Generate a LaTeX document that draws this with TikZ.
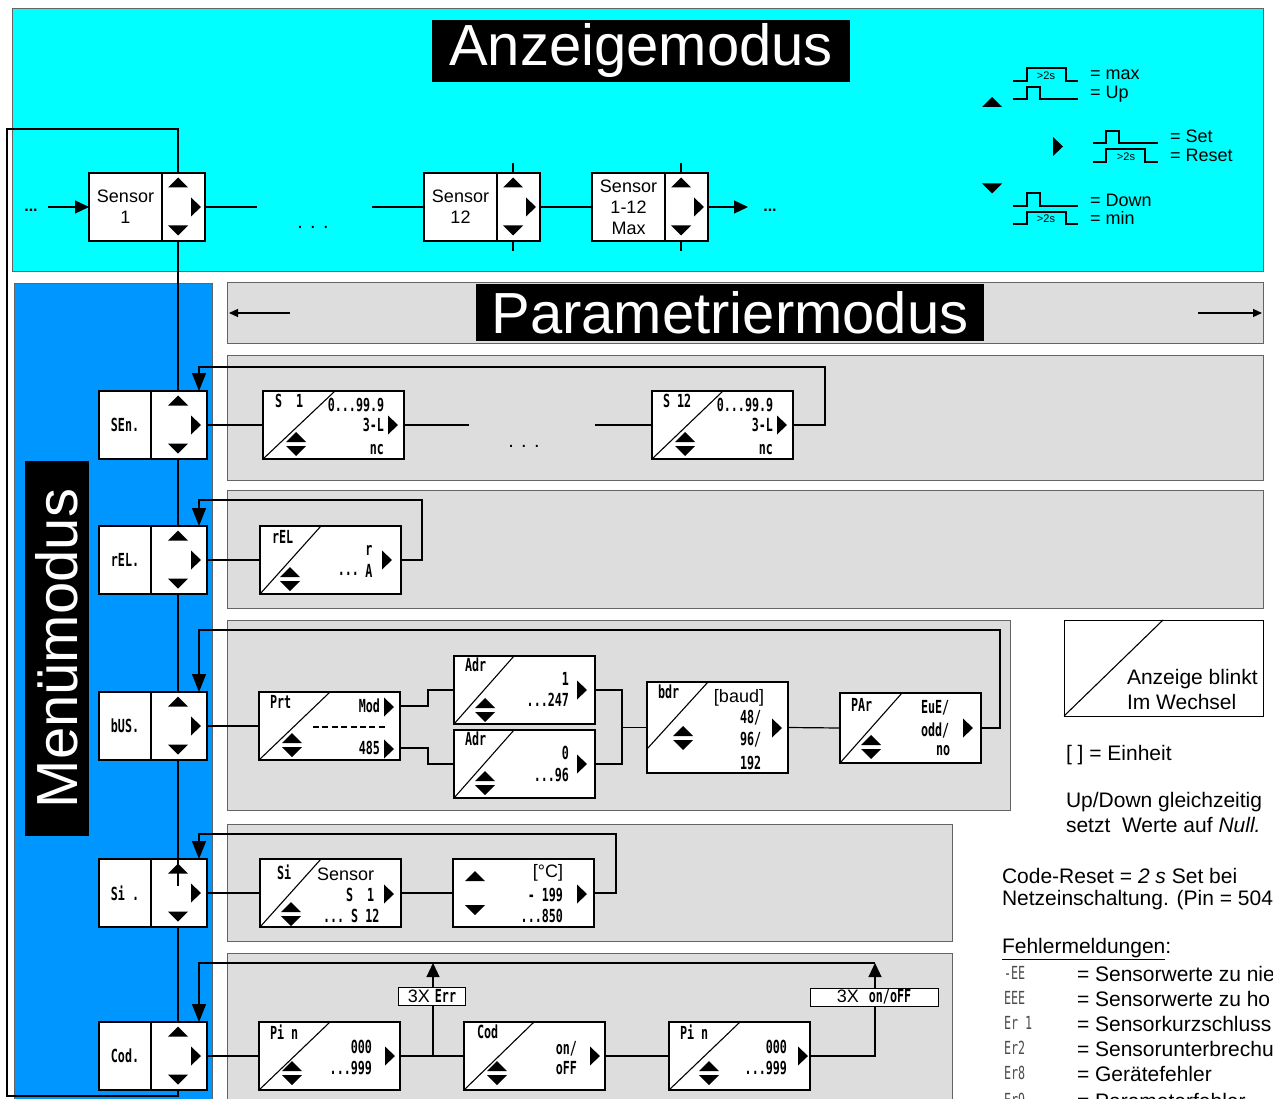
\documentclass[tikz,border=0pt]{standalone}
\usepackage{fontspec}
\setmainfont{Liberation Sans}
\newfontfamily\segfont[FakeStretch=0.65]{DejaVu Sans Mono}
\usetikzlibrary{arrows.meta,calc}
\definecolor{cyanbg}{RGB}{0,255,255}
\definecolor{bluebg}{RGB}{0,150,255}
\definecolor{graybg}{RGB}{221,221,221}
\definecolor{edgegray}{RGB}{100,100,100}
\newcommand\szSens{\fontsize{18pt}{21pt}\selectfont}
\newcommand\szLeg{\fontsize{18pt}{19pt}\selectfont}
\newcommand\szSmall{\fontsize{11pt}{12pt}\selectfont}
\newcommand\szRight{\fontsize{21pt}{23pt}\selectfont}
\newcommand\szTitle{\fontsize{58pt}{60pt}\selectfont}
\newcommand\szSeg{\segfont\bfseries\fontsize{18pt}{19pt}\selectfont}
\newcommand\szSegThin{\segfont\fontsize{18pt}{19pt}\selectfont}
\tikzset{
  every node/.style={inner sep=0pt,outer sep=0pt},
  wire/.style={line width=1.2pt},
  looparrow/.style={wire,-{Triangle[length=18pt,width=14pt]}},
  smallarrow/.style={wire,-{Triangle[length=14pt,width=13pt]}},
  hdrarrow/.style={wire,-{Triangle[length=9pt,width=8pt]}},
  panel/.style={draw=edgegray,fill=graybg,line width=0.9pt},
  disp/.style={draw,fill=white,line width=1.1pt,anchor=north west,minimum width=141pt,minimum height=68pt},
  diag/.style={line width=1.1pt},
  mleft/.style={draw,fill=white,line width=1.1pt,anchor=north west,minimum width=52pt,minimum height=68pt,font=\szSeg},
  mctl/.style={draw,fill=white,line width=1.1pt,anchor=north west,minimum width=56pt,minimum height=68pt},
  sleft/.style={draw,fill=white,line width=1.1pt,anchor=north west,minimum width=73pt,minimum height=68pt,font=\szSens,align=center},
  sctl/.style={draw,fill=white,line width=1.1pt,anchor=north west,minimum width=43pt,minimum height=68pt},
  seg/.style={font=\szSeg},
  segW/.style={font=\szSeg,anchor=west},
  segE/.style={font=\szSeg,anchor=east},
  errcode/.style={font=\szSegThin,anchor=west,text=black!70},
  leg/.style={font=\szLeg,anchor=west},
  rtxt/.style={font=\szRight,anchor=west},
  titlebox/.style={fill=black,text=white,font=\szTitle},
  lblbox/.style={draw,fill=white,line width=1pt,minimum height=18pt,font=\szLeg},
  updn/.pic={\fill (-10,-2) -- (10,-2) -- (0,-12) -- cycle; \fill (-10,2) -- (10,2) -- (0,12) -- cycle;},
  rtri/.pic={\fill (0,-9.5) -- (10,0) -- (0,9.5) -- cycle;},
  uptri/.pic={\fill (-10,5) -- (10,5) -- (0,-5) -- cycle;},
  dntri/.pic={\fill (-10,-5) -- (10,-5) -- (0,5) -- cycle;},
}
\newcommand\ctlset[2]{\pic at (#1,{#2+9.5}) {uptri}; \pic at ({#1+13},{#2+34}) {rtri}; \pic at (#1,{#2+57.5}) {dntri};}
\begin{document}
\begin{tikzpicture}[x=1pt,y=-1pt]
\useasboundingbox (0,0) rectangle (1273,1099);
\clip (0,0) rectangle (1273,1099);
\fill[white] (0,0) rectangle (1273,1099);
% backgrounds
\draw[fill=cyanbg,draw=edgegray,line width=0.9pt] (12,8) rectangle (1263,271);
\draw[fill=bluebg,draw=edgegray,line width=0.9pt] (14,283) rectangle (212,1110);
\draw[panel] (227,282) rectangle (1263,343);
\draw[panel] (227,355) rectangle (1263,480);
\draw[panel] (227,490) rectangle (1263,608);
\draw[panel] (227,620) rectangle (1010,810);
\draw[panel] (227,824) rectangle (952,941);
\draw[panel] (227,953) rectangle (952,1110);
% titles
\node[titlebox,minimum width=418pt,minimum height=62pt] (anz) at (641,51) {Anzeigemodus};
\node[titlebox,minimum width=508pt,minimum height=57pt] (par) at (730,312.5) {Parametriermodus};
\node[titlebox,rotate=90,minimum width=375pt,minimum height=64pt] (men) at (57,648.5) {Menümodus};
\coordinate (hl1) at (290,313); \coordinate (hl2) at (229,313);
\coordinate (hr1) at (1198,313); \coordinate (hr2) at (1262,313);
\draw[hdrarrow] (hl1) -- (hl2);
\draw[hdrarrow] (hr1) -- (hr2);
% legend top right
\pic at (992,102) {uptri};
\fill (1053,137) -- (1063,146.5) -- (1053,156) -- cycle;
\pic at (992,188.5) {dntri};
\draw[wire] (1013,81) -- (1027,81) -- (1027,68) -- (1066,68) -- (1066,81) -- (1078,81);
\draw[wire] (1013,99) -- (1027,99) -- (1027,87) -- (1040,87) -- (1040,99) -- (1078,99);
\draw[wire] (1093,143) -- (1106,143) -- (1106,131) -- (1119,131) -- (1119,143) -- (1158,143);
\draw[wire] (1093,162) -- (1106,162) -- (1106,149) -- (1145,149) -- (1145,162) -- (1158,162);
\draw[wire] (1013,206) -- (1027,206) -- (1027,193) -- (1040,193) -- (1040,206) -- (1078,206);
\draw[wire] (1013,224) -- (1027,224) -- (1027,212) -- (1066,212) -- (1066,224) -- (1078,224);
\node[font=\szSmall] (w1) at (1046,76) {>2s};
\node[font=\szSmall] (w2) at (1126,157) {>2s};
\node[font=\szSmall] (w3) at (1046,219) {>2s};
\node[leg] (l1) at (1090,75) {= max};
\node[leg] (l2) at (1090,94) {= Up};
\node[leg] (l3) at (1170,136) {= Set};
\node[leg] (l4) at (1170,155) {= Reset};
\node[leg] (l5) at (1090,200) {= Down};
\node[leg] (l6) at (1090,218) {= min};
% sensor row
\node[sleft] (s1) at (89,173) {Sensor\\1};
\node[sctl] (s1c) at (162,173) {};
\node[sleft] (s12) at (424,173) {Sensor\\12};
\node[sctl] (s12c) at (497,173) {};
\node[sleft] (smax) at (592,173) {Sensor\\1-12\\Max};
\node[sctl] (smaxc) at (665,173) {};
\ctlset{178}{173}
\ctlset{513}{173}
\ctlset{681}{173}
\node[font=\bfseries\fontsize{16pt}{16pt}\selectfont] (dl) at (31,210) {...};
\node[font=\fontsize{20pt}{20pt}\selectfont] (dm) at (313,227) {. . .};
\node[font=\bfseries\fontsize{16pt}{16pt}\selectfont] (dr) at (770,210) {...};
\coordinate (inL) at (48,207);
\coordinate (o1) at (257,207);
\coordinate (i12) at (372,207);
\coordinate (outR) at (748,207);
\draw[smallarrow] (inL) -- (s1.west);
\draw[wire] (s1c.east) -- (o1);
\draw[wire] (i12) -- (s12.west);
\draw[wire] (s12c.east) -- (smax.west);
\draw[smallarrow] (smaxc.east) -- (outR);
\draw[wire] (s12c.north -| 513,0) -- (513,163);
\draw[wire] (s12c.south -| 513,0) -- (513,251);
\draw[wire] (smaxc.north -| 681,0) -- (681,163);
\draw[wire] (smaxc.south -| 681,0) -- (681,251);
% menu boxes
\node[mleft] (senl) at (99,391) {SEn.};
\node[mctl] (senc) at (151,391) {};
\node[mleft] (rell) at (99,526) {rEL.};
\node[mctl] (relc) at (151,526) {};
\node[mleft] (busl) at (99,692) {bUS.};
\node[mctl] (busc) at (151,692) {};
\node[mleft] (sil) at (99,859) {Si .};
\node[mctl] (sic) at (151,859) {};
\node[mleft] (codl) at (99,1022) {Cod.};
\node[mctl] (codc) at (151,1022) {};
\ctlset{178}{391}
\ctlset{178}{526}
\ctlset{178}{692}
\ctlset{178}{859}
\ctlset{178}{1022}
% main vertical chain
\draw[wire] (s1c.north -| 178,0) -- (178,129) -- (7,129) -- (7,1096) -- (178,1096) -- (codc.south -| 178,0);
\draw[wire] (s1c.south -| 178,0) -- (senc.north -| 178,0);
\draw[wire] (senc.south -| 178,0) -- (relc.north -| 178,0);
\draw[wire] (relc.south -| 178,0) -- (busc.north -| 178,0);
\draw[wire] (busc.south -| 178,0) -- (178,886);
\draw[wire] (sic.south -| 178,0) -- (codc.north -| 178,0);
% ---- SEn row
\begin{scope}[shift={(263,391)}]
\node[disp] (ds1) at (0,0) {};
\draw[diag] (0,68) -- (72,0);
\node[segW] (ds1a) at (12,10) {S\ \ 1};
\node[seg] (ds1b) at (93,14) {0...99.9};
\node[segE] (ds1c) at (121,34) {3-L};
\pic at (125,34) {rtri};
\node[segE] (ds1d) at (121,59) {nc};
\pic at (33,53) {updn};
\end{scope}
\begin{scope}[shift={(652,391)}]
\node[disp] (ds12) at (0,0) {};
\draw[diag] (0,68) -- (71,0);
\node[segW] (ds12a) at (11,10) {S\ 12};
\node[seg] (ds12b) at (93,14) {0...99.9};
\node[segE] (ds12c) at (121,34) {3-L};
\pic at (125,34) {rtri};
\node[segE] (ds12d) at (121,59) {nc};
\pic at (33,53) {updn};
\end{scope}
\node[font=\fontsize{20pt}{20pt}\selectfont] (dsm) at (524,446) {. . .};
\coordinate (sa) at (469,425);
\coordinate (sb) at (595,425);
\draw[wire] (senc.east) -- (ds1.west);
\draw[wire] (ds1.east) -- (sa);
\draw[wire] (sb) -- (ds12.west);
\draw[looparrow] (ds12.east) -- (825,425) -- (825,367) -- (199,367) -- (senc.north -| 199,0);
% ---- rEL row
\begin{scope}[shift={(260,526)}]
\node[disp] (drel) at (0,0) {};
\draw[diag] (0,68) -- (61,0);
\node[segW] (drela) at (12,11) {rEL};
\node[seg] (drelb) at (109,24) {r};
\node[seg] (drelc) at (109,45) {A};
\node[segE] (dreld) at (99,48) {...};
\pic at (122,34) {rtri};
\pic at (30,53) {updn};
\end{scope}
\draw[wire] (relc.east) -- (drel.west);
\draw[looparrow] (drel.east) -- (422,560) -- (422,500) -- (199,500) -- (relc.north -| 199,0);
% ---- bUS row
\begin{scope}[shift={(259,692)}]
\node[disp] (dprt) at (0,0) {};
\draw[diag] (0,68) -- (71,0);
\node[segW] (dprta) at (11,10) {Prt};
\node[segE] (dprtb) at (121,14) {Mod};
\pic at (125,15) {rtri};
\draw[line width=1.5pt,dash pattern=on 6pt off 3.4pt] (54,35) -- (128,35);
\node[segE] (dprtc) at (121,56) {485};
\pic at (125,57) {rtri};
\pic at (33,53) {updn};
\end{scope}
\begin{scope}[shift={(454,656)}]
\node[disp] (dadr1) at (0,0) {};
\draw[diag] (0,68) -- (60,0);
\node[segW] (dadr1a) at (11,9) {Adr};
\node[segE] (dadr1b) at (115,23) {1};
\node[segE] (dadr1c) at (115,44) {...247};
\pic at (123,34) {rtri};
\pic at (31,54) {updn};
\end{scope}
\begin{scope}[shift={(454,730)}]
\node[disp] (dadr2) at (0,0) {};
\draw[diag] (0,68) -- (60,0);
\node[segW] (dadr2a) at (11,9) {Adr};
\node[segE] (dadr2b) at (115,23) {0};
\node[segE] (dadr2c) at (115,45) {...96};
\pic at (123,34) {rtri};
\pic at (31,53) {updn};
\end{scope}
\begin{scope}[shift={(647,682)}]
\node[disp,minimum height=91pt] (dbdr) at (0,0) {};
\draw[diag] (0,67) -- (61,0);
\node[segW] (dbdra) at (11,10) {bdr};
\node[font=\szLeg] (dbdrb) at (92,16) {[baud]};
\node[segW] (dbdrc) at (93,36) {48/};
\node[segW] (dbdrd) at (93,58) {96/};
\node[segW] (dbdre) at (93,81) {192};
\pic at (125,46) {rtri};
\pic at (36,56) {updn};
\end{scope}
\begin{scope}[shift={(840,693)}]
\node[disp,minimum height=70pt] (dpar) at (0,0) {};
\draw[diag] (0,70) -- (62,0);
\node[segW] (dpara) at (11,12) {PAr};
\node[segW] (dparb) at (81,15) {EuE/};
\node[segW] (dparc) at (81,37) {odd/};
\node[segW] (dpard) at (96,58) {no};
\pic at (123,35) {rtri};
\pic at (31,54) {updn};
\end{scope}
\draw[wire] (busc.east) -- (dprt.west);
\draw[wire] (dprt.east |- 0,706) -- (428,706) -- (428,690) -- (dadr1.west);
\draw[wire] (dprt.east |- 0,748) -- (428,748) -- (428,764) -- (dadr2.west);
\draw[wire] (dadr1.east) -- (622,690) -- (622,764) -- (dadr2.east);
\draw[wire] (622,727.5) -- (dbdr.west);
\draw[wire] (dbdr.east) -- (dpar.west);
\draw[looparrow] (dpar.east) -- (1000,728) -- (1000,630) -- (199,630) -- (busc.north -| 199,0);
% ---- Si row
\begin{scope}[shift={(260,859)}]
\node[disp] (dsi) at (0,0) {};
\draw[diag] (0,68) -- (61,0);
\node[segW] (dsia) at (17,13) {Si};
\node[font=\szSens,anchor=west] (dsib) at (57,15) {Sensor};
\node[segW] (dsic) at (86,36) {S\ \ 1};
\pic at (124,35) {rtri};
\node[segW] (dsid) at (63,57) {...\ S\ 12};
\pic at (31,55) {updn};
\end{scope}
\begin{scope}[shift={(453,859)}]
\node[disp] (dtmp) at (0,0) {};
\pic at (22,17) {uptri};
\pic at (22,51) {dntri};
\node[font=\szLeg,anchor=east] (dtmpa) at (110,14) {[°C]};
\node[segE] (dtmpb) at (110,36) {-\ 199};
\node[segE] (dtmpc) at (110,57) {...850};
\pic at (124,35) {rtri};
\end{scope}
\draw[wire] (sic.east) -- (dsi.west);
\draw[wire] (dsi.east) -- (dtmp.west);
\draw[looparrow] (dtmp.east) -- (616,893) -- (616,834) -- (199,834) -- (sic.north -| 199,0);
% ---- Cod row
\begin{scope}[shift={(259,1022)}]
\node[disp] (dpin1) at (0,0) {};
\draw[diag] (0,68) -- (71,0);
\node[segW] (dpin1a) at (11,10) {Pi\ n};
\node[segE] (dpin1b) at (113,25) {000};
\node[segE] (dpin1c) at (113,46) {...999};
\pic at (126,34) {rtri};
\pic at (33,51) {updn};
\end{scope}
\begin{scope}[shift={(464,1022)}]
\node[disp] (dcod) at (0,0) {};
\draw[diag] (0,68) -- (70,0);
\node[segW] (dcoda) at (13,10) {Cod};
\node[segE] (dcodb) at (113,27) {on/};
\node[segE] (dcodc) at (113,46) {oFF};
\pic at (126,34) {rtri};
\pic at (33,51) {updn};
\end{scope}
\begin{scope}[shift={(669,1022)}]
\node[disp] (dpin2) at (0,0) {};
\draw[diag] (0,68) -- (71,0);
\node[segW] (dpin2a) at (11,10) {Pi\ n};
\node[segE] (dpin2b) at (118,25) {000};
\node[segE] (dpin2c) at (118,46) {...999};
\pic at (129,34) {rtri};
\pic at (40,51) {updn};
\end{scope}
\node[lblbox,minimum width=67pt] (lerr) at (432,996.5) {3X {\szSeg Err}};
\node[lblbox,minimum width=128pt] (lonoff) at (874,997) {3X\ \ {\szSeg on/oFF}};
\coordinate (br1) at (433,1056);
\coordinate (tp1) at (433,963);
\coordinate (br2) at (875,1056);
\coordinate (tp2) at (875,963);
\draw[wire] (codc.east) -- (dpin1.west);
\draw[wire] (dpin1.east) -- (dcod.west);
\draw[wire] (br1) -- (lerr.south -| br1);
\draw[smallarrow] (lerr.north -| tp1) -- (tp1);
\draw[wire] (dcod.east) -- (dpin2.west);
\draw[wire] (dpin2.east) -- (br2) -- (lonoff.south -| br2);
\draw[smallarrow] (lonoff.north -| tp2) -- (tp2);
\draw[looparrow] (tp2) -- (199,963) -- (codc.north -| 199,0);
% ---- right notes
\node[draw,line width=1pt,anchor=north west,minimum width=199pt,minimum height=96pt] (lgbox) at (1064,620) {};
\draw[diag] (lgbox.south west) -- (1163,620);
\node[rtxt] (lgt1) at (1127,679) {Anzeige blinkt};
\node[rtxt] (lgt2) at (1127,702) {Im Wechsel};
\node[rtxt] (n1) at (1066,755) {[ ] = Einheit};
\node[rtxt] (n2) at (1066,802) {Up/Down gleichzeitig};
\node[rtxt] (n3) at (1066,825) {setzt\ \ Werte auf \textit{Null.}};
\node[rtxt] (n4) at (1002,876) {Code-Reset = \textit{2 s} Set bei};
\node[rtxt] (n5) at (1002,900) {Netzeinschaltung. (Pin = 504};
\node[rtxt] (n6) at (1002,949) {\underline{Fehlermeldungen}:};
\node[errcode] (e1c) at (1004,973) {-EE};
\node[rtxt] (e1t) at (1077,974) {= Sensorwerte zu nie};
\node[errcode] (e2c) at (1004,998) {EEE};
\node[rtxt] (e2t) at (1077,999) {= Sensorwerte zu ho};
\node[errcode] (e3c) at (1004,1023) {Er\ 1};
\node[rtxt] (e3t) at (1077,1024) {= Sensorkurzschluss};
\node[errcode] (e4c) at (1004,1048) {Er2};
\node[rtxt] (e4t) at (1077,1049) {= Sensorunterbrechu};
\node[errcode] (e5c) at (1004,1073) {Er8};
\node[rtxt] (e5t) at (1077,1074) {= Gerätefehler};
\node[errcode] (e6c) at (1004,1100) {Er9};
\node[rtxt] (e6t) at (1077,1101) {= Parameterfehler};
\end{tikzpicture}
\end{document}
